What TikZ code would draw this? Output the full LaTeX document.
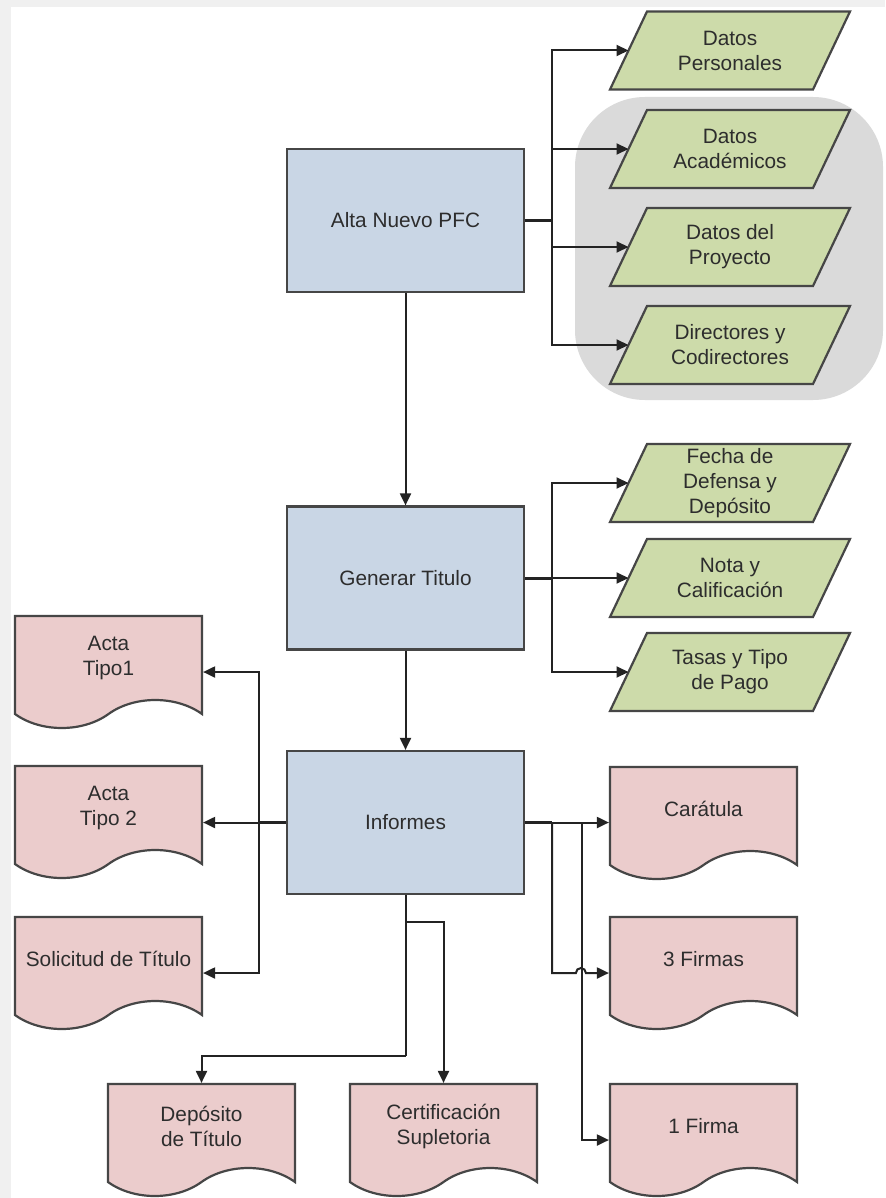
\documentclass[tikz,border=0pt]{standalone}
\usepackage{fontspec}
\setmainfont{Liberation Sans}
\usepackage{tikz}
\usetikzlibrary{arrows.meta,shapes.symbols}
\pgfdeclarelayer{background}
\pgfsetlayers{background,main}
\definecolor{procfill}{RGB}{201,214,229}
\definecolor{datfill}{RGB}{205,219,170}
\definecolor{docfill}{RGB}{235,204,204}
\definecolor{grpfill}{RGB}{218,218,218}
\definecolor{edge}{RGB}{70,70,70}
\definecolor{lin}{RGB}{35,35,35}
\definecolor{txt}{RGB}{45,45,45}

\begin{document}
\begin{tikzpicture}[x=0.5pt, y=-0.5pt,
  every node/.style={font=\fontsize{10.4}{12.5}\selectfont, text=txt},
  proc/.style={draw=edge, line width=1.1pt, fill=procfill, minimum width=118.5pt, minimum height=71.5pt},
  datos/.style={minimum width=101.5pt, minimum height=39pt, inner sep=0pt, outer sep=0pt, align=center},
  datbox/.style={draw=edge, line width=1.1pt, fill=datfill},
  doc/.style={tape, tape bend top=none, tape bend bottom=in and out, tape bend height=14pt, draw=edge, line width=1.1pt, fill=docfill, minimum width=93.5pt, minimum height=56pt, align=center},
  line/.style={draw=lin, line width=1pt},
  stub/.style={draw=lin, line width=1.5pt},
  >={Triangle[length=6pt,width=5.5pt]}]
\useasboundingbox (0,0) rectangle (885,1198);
\begin{pgfonlayer}{background}
\fill[gray!12] (0,0) rectangle (885,1198);
\fill[white] (11,7) rectangle (885,1198);
% grupo gris
\fill[grpfill, rounded corners=35pt] (575,97) rectangle (883,400);
\end{pgfonlayer}

% procesos
\node[proc] (alta) at (405.5,220.5) {Alta Nuevo PFC};
\node[proc] (gen) at (405.5,578) {Generar Titulo};
\node[proc] (inf) at (405.5,822.5) {Informes};

% datos
\node[datos] (dp) at (730,50.5) {Datos\\Personales};
\node[datos] (da) at (730,149) {Datos\\Académicos};
\node[datos] (dpr) at (730,247) {Datos del\\Proyecto};
\node[datos] (dc) at (730,345) {Directores y\\Codirectores};
\node[datos] (fd) at (730,483) {Fecha de\\Defensa y\\Depósito};
\node[datos] (nc) at (730,578) {Nota y\\Calificación};
\node[datos] (tp) at (730,672) {Tasas y Tipo\\de Pago};

\begin{pgfonlayer}{background}
\foreach \n in {dp,da,dpr,dc,fd,nc,tp}
  \filldraw[datbox] ([xshift=9.25pt]\n.north west) -- ([xshift=9.25pt]\n.north east)
    -- ([xshift=-9.25pt]\n.south east) -- ([xshift=-9.25pt]\n.south west) -- cycle;
\end{pgfonlayer}

% documentos
\node[doc] (at1) at (108.5,658) {Acta\\Tipo1};
\node[doc] (at2) at (108.5,808) {Acta\\Tipo 2};
\node[doc] (sol) at (108.5,959) {Solicitud de Título};
\node[doc] (car) at (703.5,809) {Carátula};
\node[doc] (f3) at (703.5,959) {3 Firmas};
\node[doc] (f1) at (703.5,1126) {1 Firma};
\node[doc] (dep) at (201.5,1126) {Depósito\\de Título};
\node[doc] (cert) at (443.5,1126) {Certificación\\Supletoria};

\coordinate (ja) at (552,220.5);
\coordinate (jg) at (552,578);
\coordinate (jl) at (259,822.5);
\coordinate (jr1) at (552,822.5);
\coordinate (jr2) at (582,822.5);
\coordinate (jb) at (405.5,922);
\coordinate (jd) at (405.5,1056);

\draw[line,->] (alta) -- (gen);
\draw[line,->] (gen) -- (inf);

\draw[stub] (alta.east) -- (ja);
\foreach \n in {dp,da,dpr,dc} \draw[line,->] (ja) |- (\n.west);
\draw[stub] (gen.east) -- (jg);
\foreach \n in {fd,nc,tp} \draw[line,->] (jg) |- (\n.west);

\draw[stub] (inf.west) -- (jl);
\draw[line,->] (jl) -- (jl -| at2.east);
\draw[line,->] (jl) |- ([yshift=-7pt]at1.east);
\draw[line,->] (jl) |- ([yshift=-7pt]sol.east);

\draw[stub] (inf.east) -- (jr1);
\draw[line,->] (jr1) -- (jr1 -| car.west);
\draw[line,->] (jr1) |- ([yshift=-7pt,xshift=-16.5pt]f3.west) arc[start angle=180, end angle=0, radius=2.5pt] -- ([yshift=-7pt]f3.west);
\draw[line,->] (jr2) |- ([yshift=-7pt]f1.west);

\draw[line] (inf.south) -- (jd);
\draw[line,->] (jb) -| (cert.north);
\draw[line,->] (jd) -| (dep.north);
\end{tikzpicture}
\end{document}
